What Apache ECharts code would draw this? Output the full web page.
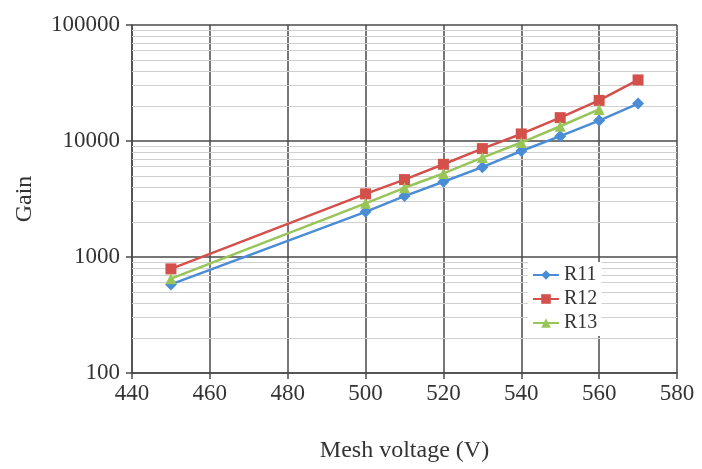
<!DOCTYPE html>
<html>
<head>
<meta charset="utf-8">
<script src="https://cdn.jsdelivr.net/npm/echarts@6/dist/echarts.min.js"></script>
<style>
  html, body { margin: 0; padding: 0; background: #fff; }
  #chart { width: 702px; height: 469px; }
</style>
</head>
<body>
<div id="chart"></div>
<script>
// Mesh voltage (V) at which each gain was measured
const voltages = [450, 500, 510, 520, 530, 540, 550, 560, 570];
// Gain per chamber
const gainR11 = [580, 2450, 3350, 4450, 5950, 8200, 11000, 15000, 21000];
const gainR12 = [790, 3500, 4650, 6300, 8600, 11500, 15900, 22400, 33600];
const gainR13 = [650, 2900, 3950, 5250, 7200, 9700, 13400, 18700];
// Minor log gridlines (2..9 within each decade)
const minorGains = [200, 300, 400, 500, 600, 700, 800, 900,
                    2000, 3000, 4000, 5000, 6000, 7000, 8000, 9000,
                    20000, 30000, 40000, 50000, 60000, 70000, 80000, 90000];

const pairs = (ys) => ys.map((y, i) => [voltages[i], y]);
const serif = '"Liberation Serif", "DejaVu Serif", serif';
const gridDark = '#4a4a4a';

const chart = echarts.init(document.getElementById('chart'), null, { renderer: 'canvas' });

function lineSeries(name, ys, color, symbol, size) {
  return {
    name, type: 'line', data: pairs(ys), z: 5,
    symbol, symbolSize: size,
    lineStyle: { color, width: 2.5 },
    itemStyle: { color },
    emphasis: { disabled: true }
  };
}

chart.setOption({
  animation: false,
  backgroundColor: '#fff',
  grid: { left: 132, right: 25, top: 25, bottom: 96, outerBoundsMode: 'none', containLabel: false },
  legend: {
    data: ['R11', 'R12', 'R13'],
    orient: 'vertical',
    left: 528, top: 262, z: 20,
    padding: [3, 4, 3, 4],
    backgroundColor: '#fff',
    itemWidth: 26, itemHeight: 12, itemGap: 4,
    textStyle: { fontFamily: serif, fontSize: 20, color: '#333' }
  },
  xAxis: {
    type: 'value', min: 440, max: 580, interval: 20,
    name: 'Mesh voltage (V)', nameLocation: 'middle', nameGap: 66,
    nameTextStyle: { fontFamily: serif, fontSize: 24, color: '#333' },
    axisLine: { show: true, lineStyle: { color: gridDark, width: 1.5 } },
    axisTick: { show: true, inside: false, length: 6, lineStyle: { color: gridDark, width: 1.5 } },
    axisLabel: { fontFamily: serif, fontSize: 23, color: '#333', margin: 9 },
    splitLine: { show: true, lineStyle: { color: gridDark, width: 1.5 } }
  },
  yAxis: {
    type: 'log', logBase: 10, min: 100, max: 100000,
    name: 'Gain', nameLocation: 'middle', nameGap: 95,
    nameTextStyle: { fontFamily: serif, fontSize: 24, color: '#333' },
    axisLine: { show: true, lineStyle: { color: gridDark, width: 1.5 } },
    axisTick: { show: true, length: 6, lineStyle: { color: gridDark, width: 1.5 } },
    axisLabel: {
      fontFamily: serif, fontSize: 23, color: '#333', margin: 12,
      formatter: (v) => String(Math.round(v))
    },
    splitLine: { show: true, lineStyle: { color: gridDark, width: 1.5 } }
  },
  series: [
    {
      name: 'minor', type: 'line', data: [], z: 1, silent: true,
      markLine: {
        z: 1,
        silent: true, symbol: 'none', animation: false,
        label: { show: false },
        lineStyle: { color: '#cfcfcf', width: 1.2, type: 'solid' },
        emphasis: { disabled: true },
        data: minorGains.map((g) => ({ yAxis: g }))
      }
    },
    lineSeries('R11', gainR11, '#4a8dd6', 'diamond', 12),
    lineSeries('R12', gainR12, '#d4504a', 'rect', 11),
    lineSeries('R13', gainR13, '#98c557', 'triangle', 11)
  ]
});
</script>
</body>
</html>
